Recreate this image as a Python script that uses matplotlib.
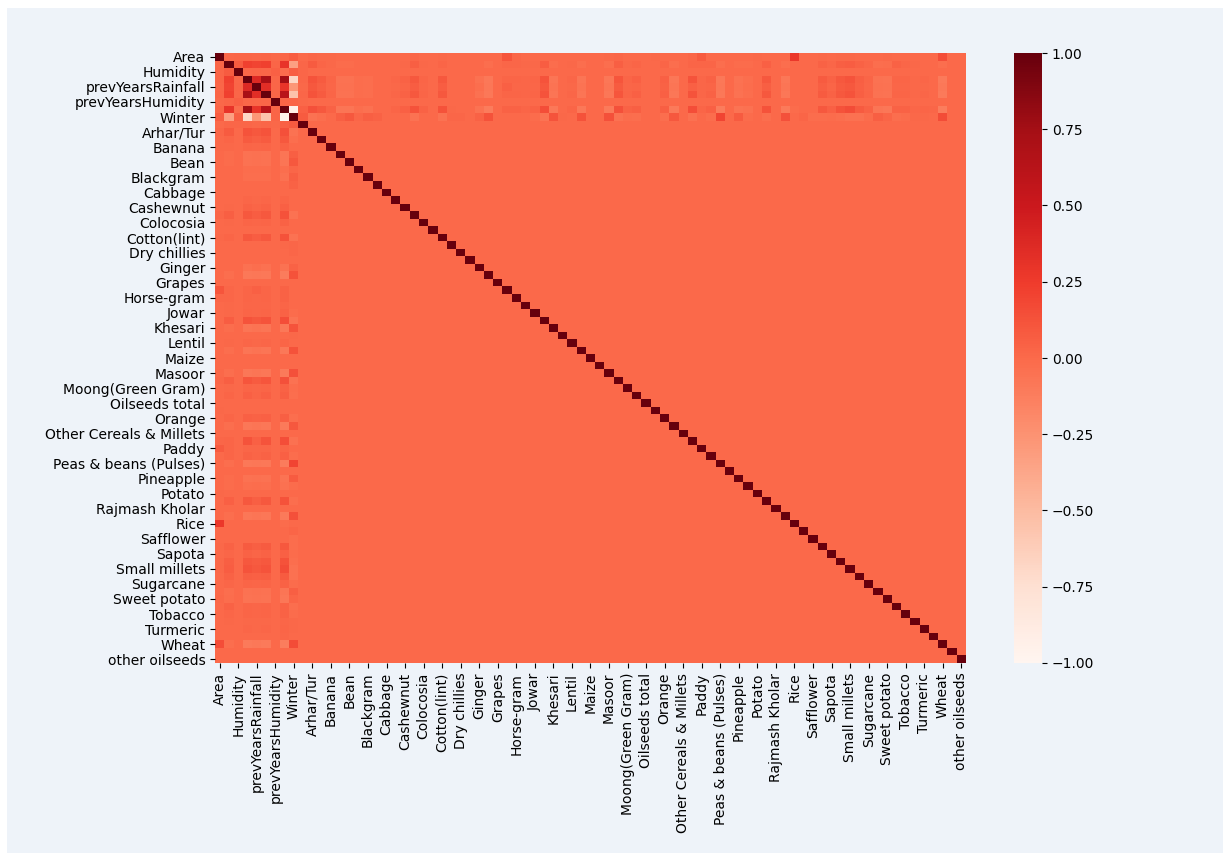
import numpy as np
import matplotlib
matplotlib.use('Agg')
import matplotlib.pyplot as plt
from matplotlib.patches import Rectangle

# every second column is labelled, same as the heatmap auto tick thinning
tick_labels = ['Area', 'Humidity', 'prevYearsRainfall', 'prevYearsHumidity', 'Winter', 'Arhar/Tur',
               'Banana', 'Bean', 'Blackgram', 'Cabbage', 'Cashewnut', 'Colocosia', 'Cotton(lint)',
               'Dry chillies', 'Ginger', 'Grapes', 'Horse-gram', 'Jowar', 'Khesari', 'Lentil', 'Maize',
               'Masoor', 'Moong(Green Gram)', 'Oilseeds total', 'Orange', 'Other Cereals & Millets',
               'Paddy', 'Peas & beans (Pulses)', 'Pineapple', 'Potato', 'Rajmash Kholar', 'Rice',
               'Safflower', 'Sapota', 'Small millets', 'Sugarcane', 'Sweet potato', 'Tobacco',
               'Turmeric', 'Wheat', 'other oilseeds']
cbar_ticks = [-1, -0.75, -0.5, -0.25, 0, 0.25, 0.5, 0.75, 1]

# correlations among the 10 weather / season columns
top_block = [
    [1.00, 0.02, 0.03, 0.03, 0.02, 0.03, 0.01, 0.03, 0.07, 0.00],
    [0.02, 1.00, 0.08, 0.22, 0.20, 0.22, 0.03, 0.30, -0.33, 0.02],
    [0.03, 0.08, 1.00, 0.02, 0.03, 0.02, 0.05, -0.02, 0.06, 0.02],
    [0.03, 0.22, 0.02, 1.00, 0.38, 0.72, 0.02, 0.75, -0.68, 0.02],
    [0.02, 0.20, 0.03, 0.38, 1.00, 0.35, 0.02, 0.30, -0.28, 0.01],
    [0.03, 0.22, 0.02, 0.72, 0.35, 1.00, 0.02, 0.62, -0.55, 0.02],
    [0.01, 0.03, 0.05, 0.02, 0.02, 0.02, 1.00, 0.03, 0.03, 0.01],
    [0.03, 0.30, -0.02, 0.75, 0.30, 0.62, 0.03, 1.00, -0.95, 0.05],
    [0.07, -0.33, 0.06, -0.68, -0.28, -0.55, 0.03, -0.95, 1.00, 0.08],
    [0.00, 0.02, 0.02, 0.02, 0.01, 0.02, 0.01, 0.05, 0.08, 1.00],
]

# correlation of each of the 71 crop columns with the weather columns
area_corr = [.02, .01, .01, 0, 0, 0, 0, 0, 0, 0, 0, .02, 0, 0, .01, 0, 0,
             0, 0, 0, 0, .11, .02, 0, 0, 0, 0, 0, 0, 0, 0, 0, .01, .02,
             0, 0, 0, .01, 0, 0, 0, .02, .08, 0, 0, 0, 0, 0, .01, 0, 0, 0, .28,
             0, 0, .01, 0, .01, .01, 0, 0, 0, .01, 0, 0, 0, 0, 0, .15, 0, 0]
temp_corr = [.08, .03, .01, -.01, -.01, 0, 0, 0, 0, 0, .01, .06, .01, 0, .03, 0, 0,
             0, 0, -.03, 0, .02, .02, .01, .01, .07, -.02, 0, .01, -.03, 0, 0, -.03, .06, .01,
             .03, 0, 0, .03, -.03, 0, .03, .03, .03, -.03, 0, -.01, -.01, 0, .05, 0, -.03, 0,
             0, 0, .04, .02, .06, .07, .04, .02, -.03, -.02, .04, .02, .01, 0, 0, -.03, 0, 0]
rain_corr = [.12, .08, .03, -.05, -.05, -.02, -.03, 0, 0, .02, .04, .10, .03, 0, .10, 0, 0,
             0, -.04, -.09, 0, .03, .03, .02, .03, .12, -.07, 0, .02, -.07, 0, 0, -.08, .11, .03,
             .05, 0, 0, .05, -.08, 0, .12, .02, .04, -.09, 0, -.05, -.03, 0, .10, 0, -.08, 0,
             0, 0, .08, .04, .10, .12, .06, .03, -.05, -.06, .03, .03, .01, .02, 0, -.10, 0, 0]
prev_rain_corr = [.10, .06, .02, -.04, -.04, -.02, -.03, 0, 0, .01, .03, .07, .02, 0, .07, 0, 0,
                  0, -.03, -.08, 0, .05, .02, .02, .02, .10, -.06, 0, .01, -.06, 0, 0, -.07, .08, .02,
                  .03, 0, 0, .04, -.07, 0, .05, .02, .03, -.08, 0, -.04, -.02, 0, .06, 0, -.07, 0,
                  0, 0, .06, .03, .08, .10, .05, .02, -.04, -.05, .02, .02, .01, .01, 0, -.09, 0, 0]
season_corr = [.14, .10, .04, -.07, -.07, -.03, -.04, 0, 0, .03, .05, .13, .04, 0, .13, .01, 0,
               0, -.05, -.11, 0, .04, .04, .03, .04, .15, -.09, 0, .03, -.09, 0, 0, -.10, .14, .04,
               .06, 0, 0, .06, -.10, 0, .15, .03, .05, -.11, 0, -.06, -.04, 0, .13, 0, -.10, -.01,
               0, 0, .10, .05, .13, .16, .08, .04, -.07, -.08, .04, .04, .02, .03, .02, -.12, 0, 0]
winter_corr = [-.05, -.03, 0, .06, .10, .02, .06, .04, 0, 0, 0, -.05, 0, 0, -.05, .02, .02,
               0, .04, .13, 0, 0, 0, 0, -.01, -.06, .12, .01, 0, .13, 0, 0, .14, -.05, -.02,
               -.03, 0, 0, -.03, .10, 0, -.04, 0, -.02, .20, 0, .08, -.01, 0, -.03, 0, .14, 0,
               .03, -.02, -.02, -.01, -.03, -.04, -.04, -.01, .06, .03, -.03, -.01, .01, .01, 0, .16, 0, 0]

# put the matrix together
n = 81
corr = np.zeros((n, n))
np.fill_diagonal(corr, 1.0)
corr[:10, :10] = top_block
for row, vals in [(0, area_corr), (1, temp_corr), (3, rain_corr), (4, prev_rain_corr),
                  (5, rain_corr), (7, season_corr), (8, winter_corr)]:
    corr[row, 10:] = vals
    corr[10:, row] = vals

fig = plt.figure(figsize=(12.31, 8.55), dpi=100, facecolor='white')
W, H = 1231, 855

# pale page behind the chart, with a white edge left and top
fig.patches.append(Rectangle((7 / W, 1 - 853 / H), 1216 / W, 845 / H, transform=fig.transFigure,
                             facecolor='#eef3f9', edgecolor='none', zorder=-1))

ax = fig.add_axes([215 / W, 1 - 663 / H, 751 / W, 610 / H])
mesh = ax.pcolormesh(np.arange(n + 1), np.arange(n + 1), corr, cmap='Reds', vmin=-1, vmax=1)
ax.set_xlim(0, n)
ax.set_ylim(n, 0)
for s in ax.spines.values():
    s.set_visible(False)

ticks = np.arange(0, n, 2) + 0.5
ax.set_xticks(ticks)
ax.set_xticklabels(tick_labels, rotation=90, fontsize=10)
ax.set_yticks(ticks)
ax.set_yticklabels(tick_labels, rotation=0, fontsize=10)
ax.patch.set_alpha(0)

cax = fig.add_axes([1014 / W, 1 - 663 / H, 28 / W, 610 / H])
cbar = fig.colorbar(mesh, cax=cax)
cbar.set_ticks(cbar_ticks)
cbar.ax.set_yticklabels(['\u22121.00', '\u22120.75', '\u22120.50', '\u22120.25', '0.00', '0.25', '0.50', '0.75', '1.00'],
                        fontsize=10)
cbar.outline.set_visible(False)

plt.savefig('out.png', dpi=100, facecolor='white')
